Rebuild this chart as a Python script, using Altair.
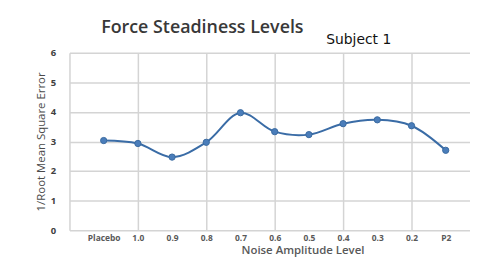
import altair as alt
import pandas as pd

levels = ["Placebo", "1.0", "0.9", "0.8", "0.7", "0.6", "0.5", "0.4", "0.3", "0.2", "P2"]
inv_rmse = [3.03, 2.93, 2.47, 2.97, 3.97, 3.33, 3.23, 3.60, 3.73, 3.53, 2.70]
x_grid = [0, 2, 4, 6, 8, 10]
y_ticks = [0, 1, 2, 3, 4, 5, 6]

df = pd.DataFrame({"pos": list(range(1, len(levels) + 1)), "level": levels, "val": inv_rmse})

label_js = "[" + ",".join("'" + s + "'" for s in levels) + "]"

W, H = 404, 179
xscale = alt.Scale(domain=[0, 11.71], nice=False, zero=False)
yscale = alt.Scale(domain=[0, 6], nice=False)

line_color = "#3a6ca6"

yaxis = alt.Axis(
    values=y_ticks, tickCount=7, grid=True, gridColor="#d4d4d4", gridWidth=1.5,
    ticks=False, domain=False, labelOverlap=False,
    labelFont="Open Sans", labelFontWeight="bold", labelFontSize=9.5, labelColor="#404040",
    labelPadding=14,
    title="1/Root Mean Square Error", titleFont="Open Sans", titleFontSize=11.5,
    titleFontWeight="normal", titleColor="#4a4a4a", titlePadding=4)

base = alt.Chart(df)

line = base.mark_line(interpolate="catmull-rom", color=line_color, strokeWidth=2, clip=True).encode(
    x=alt.X("pos:Q", scale=xscale, axis=alt.Axis(
        orient="bottom", values=list(range(1, len(levels) + 1)),
        labelExpr=label_js + "[datum.value-1]",
        grid=False, ticks=False, domain=False, labelOverlap=False,
        labelFont="Open Sans", labelFontWeight="bold", labelFontSize=8.5, labelColor="#595959",
        labelPadding=3, labelFlush=False,
        title="Noise Amplitude Level", titleFont="Open Sans", titleFontSize=11.5,
        titleFontWeight=600, titleColor="#595959", titleX=235, titleY=15,
        titleAlign="center", titleBaseline="top")),
    y=alt.Y("val:Q", scale=yscale, axis=yaxis),
)

pts = base.mark_point(filled=True, size=40, color="#4a7dba", stroke="#3a6aa0", strokeWidth=1, opacity=1).encode(
    x=alt.X("pos:Q", scale=xscale, axis=alt.Axis(
        orient="top", values=x_grid, grid=True, gridColor="#d4d4d4", gridWidth=1.5,
        labels=False, ticks=False, domain=False, title=None)),
    y=alt.Y("val:Q", scale=yscale, axis=yaxis),
)

title_df = pd.DataFrame({"t": ["Force Steadiness Levels"]})
title = alt.Chart(title_df).mark_text(
    align="left", baseline="alphabetic", font="Open Sans", fontSize=18, fontWeight=600, color="#383838"
).encode(x=alt.value(32), y=alt.value(-19.5), text="t:N")

sub_df = pd.DataFrame({"t": ["Subject 1"]})
sub = alt.Chart(sub_df).mark_text(
    align="left", baseline="alphabetic", font="DejaVu Sans", fontSize=14, color="#111111"
).encode(x=alt.value(259), y=alt.value(-9), text="t:N")

chart = alt.layer(line, pts, title, sub).resolve_axis(x="independent").properties(
    width=W, height=H,
    autosize=alt.AutoSizeParams(type="none"),
    padding={"left": 62, "top": 44, "right": 0, "bottom": 26},
    background="white",
).configure_view(stroke=None)

chart.save("out.html", embed_options={"renderer": "svg", "actions": False})
